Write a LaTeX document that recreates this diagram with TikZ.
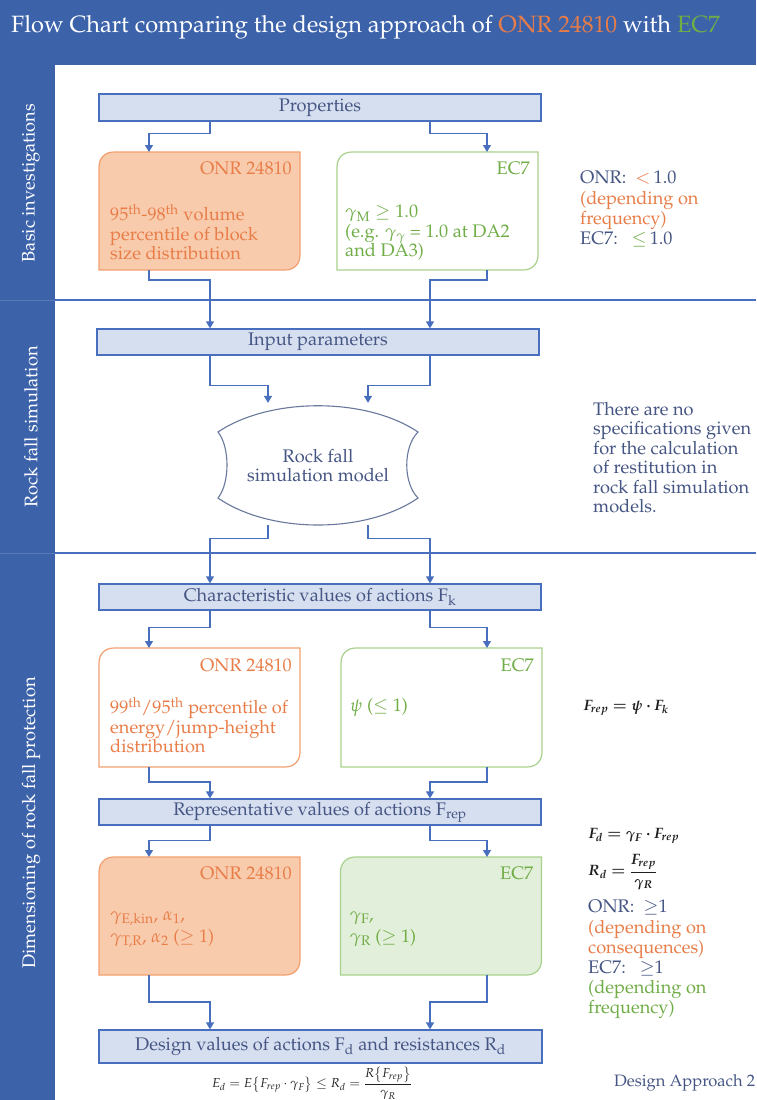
\documentclass[tikz,border=0pt]{standalone}
\usepackage[T1]{fontenc}
\usepackage{mathpazo}
\usepackage{amsmath,bm}
\usetikzlibrary{arrows.meta,calc}

\definecolor{band}{RGB}{60,98,170}
\definecolor{lineblue}{RGB}{72,110,190}
\definecolor{barfill}{RGB}{214,223,240}
\definecolor{slate}{RGB}{70,86,132}
\definecolor{onrtext}{RGB}{232,125,72}
\definecolor{onrfill}{RGB}{248,203,173}
\definecolor{onredge}{RGB}{242,160,112}
\definecolor{ectext}{RGB}{112,173,71}
\definecolor{ecfill}{RGB}{226,239,218}
\definecolor{ecedge}{RGB}{169,209,142}
\definecolor{mathink}{RGB}{30,30,30}

% outline of a box with rounded top-left and bottom-right corners
\newcommand\leafoutline[2]{%
  \path[#2] ($(#1.north west)+(0,15)$)
    .. controls ($(#1.north west)+(0,6)$) and ($(#1.north west)+(6,0)$) .. ($(#1.north west)+(15,0)$)
    -- (#1.north east) -- ($(#1.south east)+(0,-15)$)
    .. controls ($(#1.south east)+(0,-6)$) and ($(#1.south east)+(-6,0)$) .. ($(#1.south east)+(-15,0)$)
    -- (#1.south west) -- cycle;}

\begin{document}
\begin{tikzpicture}[x=1pt,y=-1pt,
  fs/.style={font=\fontsize{18.2}{19.5}\selectfont},
  bar/.style={draw=lineblue, fill=barfill, line width=1.3pt, minimum width=442pt,
    minimum height=26pt, inner sep=0pt, text=slate, fs},
  leafgeo/.style={rectangle, minimum width=201pt, minimum height=118pt, inner sep=0pt, outer sep=0pt},
  onrfilled/.style={draw=onredge, fill=onrfill, line width=1.2pt},
  onrplain/.style={draw=onredge, fill=white, line width=1.2pt},
  ecplain/.style={draw=ecedge, fill=white, line width=1.2pt},
  ecfilled/.style={draw=ecedge, fill=ecfill, line width=1.2pt},
  boxhead/.style={anchor=east, inner sep=0pt, fs},
  boxbody/.style={anchor=north west, align=left, inner sep=0pt, fs},
  arr/.style={draw=lineblue, line width=1.3pt, -{Triangle[width=8pt,length=7pt]}},
  note/.style={anchor=north west, align=left, inner sep=0pt, text=slate, fs},
  sidenote/.style={note, font=\fontsize{18.2}{20.2}\selectfont},
  sidelabel/.style={rotate=90, text=white, fs},
  sepline/.style={draw=lineblue, line width=1.2pt},
  mathnote/.style={anchor=west, inner sep=0pt, text=mathink, font=\fontsize{15}{17}\selectfont},
]
\useasboundingbox (0,0) rectangle (756,1100);

% frame: blue header and side strip, white panel
\fill[band] (0,0) rectangle (756,1100);
\fill[white] (55,65) rectangle (756,1100);
\draw[band!85!white, line width=0.8pt] (0,300) -- (55,300) (0,553) -- (55,553);
\draw[sepline] (55,300) -- (756,300);
\draw[sepline] (55,553) -- (756,553);

\node[anchor=west, inner sep=0pt, text=white, font=\fontsize{23.6}{28}\selectfont] (title) at (11,27)
  {Flow Chart comparing the design approach of \textcolor{onrtext}{ONR 24810} with \textcolor{ectext}{EC7}};

\node[sidelabel] (s1) at (31,183) {Basic investigations};
\node[sidelabel] (s2) at (31,427) {Rock fall simulation};
\node[sidelabel] (s3) at (31,823) {Dimensioning of rock fall protection};

% connector columns
\coordinate (xL) at (210,0);
\coordinate (xR) at (430,0);
\coordinate (xBL) at (149,0);
\coordinate (xBR) at (487,0);
\coordinate (xSL) at (268,0);
\coordinate (xSR) at (368,0);

% bars
\node[bar, minimum height=27pt] (prop) at (320,107.5) {Properties};
\node[bar] (inp) at (318,342) {Input parameters};
\node[bar] (char) at (320,597) {Characteristic values of actions F\textsubscript{k}};
\node[bar] (rep) at (320,812) {Representative values of actions F\textsubscript{rep}};
\node[bar, minimum width=443pt, minimum height=33pt] (des) at (320.5,1046.5)
  {Design values of actions F\textsubscript{d} and resistances R\textsubscript{d}};

% ---- basic investigations
\node[leafgeo] (onr1) at (199.5,211) {};
\node[leafgeo] (ec1) at (437.5,211) {};
\leafoutline{onr1}{onrfilled}
\leafoutline{ec1}{ecplain}
\node[boxhead, text=onrtext] (onr1h) at ($(onr1.north east)+(-8,16)$) {ONR 24810};
\node[boxbody, text=onrtext] (onr1b) at ($(onr1.north west)+(11,52)$)
  {95\textsuperscript{th}-98\textsuperscript{th} volume\\percentile of block\\size distribution};
\node[boxhead, text=ectext] (ec1h) at ($(ec1.north east)+(-8,16)$) {EC7};
\node[boxbody, text=ectext] (ec1b) at ($(ec1.north west)+(8,53)$)
  {$\gamma_{\mathrm{M}}\geq 1.0$\\(e.g. $\gamma_{\gamma}$ = 1.0 at DA2\\and DA3)};

\node[sidenote] (n1) at (580,171)
  {ONR:\ \ \textcolor{onrtext}{\smash{$<$}}\,1.0\\
   \textcolor{onrtext}{(depending on}\\
   \textcolor{onrtext}{frequency)}\\
   EC7:\ \ \ \textcolor{ectext}{\smash{$\leq$}}\,1.0};

% ---- rock fall simulation
\draw[draw=slate!80, fill=white, line width=1.1pt]
  (218,432) .. controls (270,397) and (366,397) .. (418,432)
  .. controls (403,447) and (403,483) .. (418,498)
  .. controls (366,534) and (270,534) .. (218,498)
  .. controls (230,483) and (230,447) .. (218,432) -- cycle;
\node[minimum width=200pt, minimum height=119pt, inner sep=0pt, align=center, text=slate, fs]
  (sim) at (318,465.5) {Rock fall\\simulation model};

\node[note] (n2) at (593,402)
  {There are no\\specifications given\\for the calculation\\of restitution in\\rock fall simulation\\models.};

% ---- dimensioning
\node[leafgeo, minimum height=119pt] (onr2) at (199.5,707.5) {};
\node[leafgeo, minimum height=119pt] (ec2) at (441.5,707.5) {};
\leafoutline{onr2}{onrplain}
\leafoutline{ec2}{ecplain}
\node[boxhead, text=onrtext] (onr2h) at ($(onr2.north east)+(-8,17)$) {ONR 24810};
\node[boxbody, text=onrtext] (onr2b) at ($(onr2.north west)+(11,49)$)
  {99\textsuperscript{th}/95\textsuperscript{th} percentile of\\energy/jump-height\\distribution};
\node[boxhead, text=ectext] (ec2h) at ($(ec2.north east)+(-8,17)$) {EC7};
\node[boxbody, text=ectext] (ec2b) at ($(ec2.north west)+(9,50)$) {$\psi$ ($\leq$ 1)};

\node[mathnote] (n3) at (583,708) {$\bm{F_{rep} = \psi\cdot F_k}$};

\node[leafgeo] (onr3) at (199.5,916) {};
\node[leafgeo] (ec3) at (441,916) {};
\leafoutline{onr3}{onrfilled}
\leafoutline{ec3}{ecfilled}
\node[boxhead, text=onrtext] (onr3h) at ($(onr3.north east)+(-8,16)$) {ONR 24810};
\node[boxbody, text=onrtext] (onr3b) at ($(onr3.north west)+(11,54)$)
  {$\gamma_{\mathrm{E,kin}}$, $\alpha_1$,\\[3pt]$\gamma_{\mathrm{T,R}}$, $\alpha_2$ ($\geq$ 1)};
\node[boxhead, text=ectext] (ec3h) at ($(ec3.north east)+(-8,16)$) {EC7};
\node[boxbody, text=ectext] (ec3b) at ($(ec3.north west)+(9,54)$)
  {$\gamma_{\mathrm{F}}$,\\[3pt]$\gamma_{\mathrm{R}}$ ($\geq$ 1)};

\node[mathnote] (n4) at (588,836) {$\bm{F_d = \gamma_F\cdot F_{rep}}$};
\node[mathnote] (n5) at (588,872) {$\bm{R_d = \dfrac{F_{rep}}{\gamma_R}}$};
\node[sidenote] (n6) at (588,900)
  {ONR:\ \ \smash{$\geq$}1\\
   \textcolor{onrtext}{(depending on}\\
   \textcolor{onrtext}{consequences)}\\
   EC7:\ \ \ \smash{$\geq$}1\\
   \textcolor{ectext}{(depending on}\\
   \textcolor{ectext}{frequency)}};

\node[inner sep=0pt, text=mathink, font=\fontsize{13}{15}\selectfont] (eq) at (312,1083)
  {$E_d = E\bigl\{F_{rep}\cdot\gamma_F\bigr\} \leq R_d = \dfrac{R\bigl\{F_{rep}\bigr\}}{\gamma_R}$};
\node[anchor=west, inner sep=0pt, text=slate, font=\fontsize{16.5}{18}\selectfont] (da) at (614,1083) {Design Approach 2};

% ---- connectors
\draw[arr] (prop.south -| xL) -- ++(0,12) -| (onr1.north -| xBL);
\draw[arr] (prop.south -| xR) -- ++(0,12) -| (ec1.north -| xBR);
\draw[arr] (onr1.south -| xBL) -- ++(0,10) -| (inp.north -| xL);
\draw[arr] (ec1.south -| xBR) -- ++(0,10) -| (inp.north -| xR);
\draw[arr, shorten >=3pt] (inp.south -| xL) -- ++(0,30) -| (sim.north -| xSL);
\draw[arr, shorten >=3pt] (inp.south -| xR) -- ++(0,30) -| (sim.north -| xSR);
\draw[arr] (sim.south -| xSL) -- ++(0,13) -| (char.north -| xL);
\draw[arr] (sim.south -| xSR) -- ++(0,13) -| (char.north -| xR);
\draw[arr] (char.south -| xL) -- ++(0,17) -| (onr2.north -| xBL);
\draw[arr] (char.south -| xR) -- ++(0,17) -| (ec2.north -| xBR);
\draw[arr] (onr2.south -| xBL) -- ++(0,15) -| (rep.north -| xL);
\draw[arr] (ec2.south -| xBR) -- ++(0,15) -| (rep.north -| xR);
\draw[arr] (rep.south -| xL) -- ++(0,15) -| (onr3.north -| xBL);
\draw[arr] (rep.south -| xR) -- ++(0,15) -| (ec3.north -| xBR);
\draw[arr] (onr3.south -| xBL) -- ++(0,27) -| (des.north -| xL);
\draw[arr] (ec3.south -| xBR) -- ++(0,27) -| (des.north -| xR);
\end{tikzpicture}
\end{document}
